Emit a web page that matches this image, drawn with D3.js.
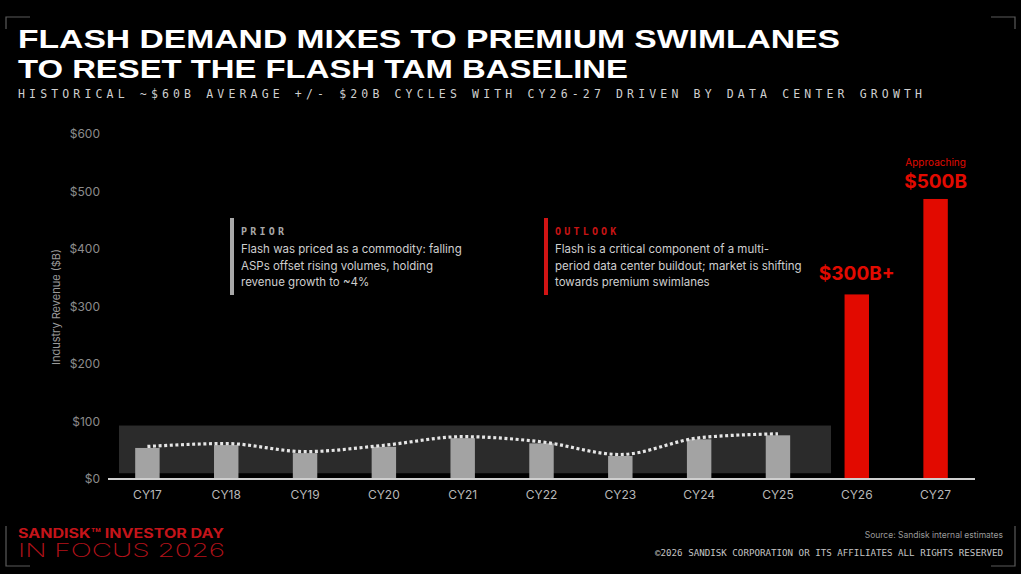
<!DOCTYPE html>
<html>
<head>
<meta charset="utf-8">
<script src="https://cdn.jsdelivr.net/npm/d3@7"></script>
<style>
	html, body { margin: 0; padding: 0; background: #000; }
	svg { display: block; }
	text { font-family: "Inter", "Liberation Sans", sans-serif; }
</style>
</head>
<body>
<svg id="chart" width="1021" height="574"></svg>
<script>
// Chart values
const categories = ["CY17", "CY18", "CY19", "CY20", "CY21", "CY22", "CY23", "CY24", "CY25", "CY26", "CY27"];
const historicalYears = ["CY17", "CY18", "CY19", "CY20", "CY21", "CY22", "CY23", "CY24", "CY25"];
const historicalValues = [54, 59, 45, 56, 71, 62, 40, 69, 76];
const forecastYears = ["CY26", "CY27"];
const forecastValues = [321, 487];
const forecastLabels = ["$300B+", "$500B"];
const yTicks = [0, 100, 200, 300, 400, 500, 600];
const historicalBand = [10, 93];

const priorLines = [
	"Flash was priced as a commodity: falling",
	"ASPs offset rising volumes, holding",
	"revenue growth to ~4%",
];
const outlookLines = [
	"Flash is a critical component of a multi-",
	"period data center buildout; market is shifting",
	"towards premium swimlanes",
];

const svg = d3.select("#chart");
const red = "#e20a00";

// Background
svg.append("rect").attr("width", 1021).attr("height", 574).attr("fill", "#000");

// Corner brackets
const corners = [
	"M6,29 V17 H30", "M991,17 H1015 V29",
	"M6,526 V566 H30", "M991,566 H1015 V526",
];
svg.selectAll(".corner").data(corners).enter().append("path")
	.attr("d", (d) => d).attr("fill", "none").attr("stroke", "#5a5a5a").attr("stroke-width", 1.2);

// Title
const titleLines = ["FLASH DEMAND MIXES TO PREMIUM SWIMLANES", "TO RESET THE FLASH TAM BASELINE"];
const titleWidths = [822, 610];
svg.selectAll(".title").data(titleLines).enter().append("text")
	.attr("x", 18).attr("y", (d, i) => 48 + i * 30)
	.attr("textLength", (d, i) => titleWidths[i])
	.attr("lengthAdjust", "spacingAndGlyphs")
	.style("font-family", "'Liberation Sans', sans-serif")
	.style("font-size", "26.5px").style("font-weight", 700).attr("fill", "#fff")
	.text((d) => d);

svg.append("text")
	.attr("x", 18).attr("y", 98)
	.attr("textLength", 904).attr("lengthAdjust", "spacing")
	.style("font-family", "'DejaVu Sans Mono', monospace").style("font-size", "11.5px")
	.attr("fill", "#cfcfcf")
	.text("HISTORICAL ~$60B AVERAGE +/- $20B CYCLES WITH CY26-27 DRIVEN BY DATA CENTER GROWTH");

// Scales
const x = d3.scaleBand().domain(categories).range([108, 975]).paddingInner(0.69).paddingOuter(0.345);
const y = d3.scaleLinear().domain([0, 600]).range([479, 134]);

// Historical band
svg.append("rect")
	.attr("x", 119).attr("width", 831 - 119)
	.attr("y", y(historicalBand[1])).attr("height", y(historicalBand[0]) - y(historicalBand[1]))
	.attr("fill", "#2b2b2b");

// Y axis
const yAxis = svg.append("g").attr("transform", "translate(100,0)")
	.call(d3.axisLeft(y).tickValues(yTicks).tickSize(0).tickPadding(0).tickFormat((d) => "$" + d));
yAxis.select(".domain").remove();
yAxis.selectAll("text").attr("fill", "#8c8c8c").style("font-size", "12px")
	.style("font-family", "'Inter', sans-serif");

svg.append("text")
	.attr("transform", "translate(60,307) rotate(-90)")
	.attr("text-anchor", "middle")
	.attr("fill", "#9a9a9a").style("font-size", "11px")
	.text("Industry Revenue ($B)");

// Historical bars
svg.selectAll(".hist").data(historicalValues).enter().append("rect")
	.attr("x", (d, i) => x(historicalYears[i]))
	.attr("width", x.bandwidth())
	.attr("y", (d) => y(d))
	.attr("height", (d) => y(0) - y(d))
	.attr("fill", "#a3a3a3");

// Forecast bars
svg.selectAll(".fc").data(forecastValues).enter().append("rect")
	.attr("x", (d, i) => x(forecastYears[i]))
	.attr("width", x.bandwidth())
	.attr("y", (d) => y(d))
	.attr("height", (d) => y(0) - y(d))
	.attr("fill", red);

// Dotted trend line over historical years
const line = d3.line()
	.x((d, i) => x(historicalYears[i]) + x.bandwidth() / 2)
	.y((d) => y(d) - 1.5)
	.curve(d3.curveMonotoneX);
svg.append("path")
	.datum(historicalValues)
	.attr("d", line)
	.attr("fill", "none")
	.attr("stroke", "#e6e6e6")
	.attr("stroke-width", 3.2)
	.attr("stroke-dasharray", "3 2.6");

// Baseline
svg.append("line")
	.attr("x1", 108).attr("x2", 975).attr("y1", y(0)).attr("y2", y(0))
	.attr("stroke", "#cfcfcf").attr("stroke-width", 2);

// X axis labels
const xAxis = svg.append("g").attr("transform", `translate(0,${y(0)})`)
	.call(d3.axisBottom(x).tickSize(0).tickPadding(11));
xAxis.select(".domain").remove();
xAxis.selectAll("text").attr("fill", "#b8b8b8").style("font-size", "12px")
	.style("font-family", "'Inter', sans-serif");

// Forecast value labels
const cx = (k) => x(k) + x.bandwidth() / 2;
svg.append("text")
	.attr("x", cx("CY26")).attr("y", y(forecastValues[0]) - 14)
	.attr("text-anchor", "middle").attr("fill", red)
	.style("font-size", "19px").style("font-weight", 700)
	.text(forecastLabels[0]);
svg.append("text")
	.attr("x", cx("CY27")).attr("y", y(forecastValues[1]) - 11)
	.attr("text-anchor", "middle").attr("fill", red)
	.style("font-size", "19px").style("font-weight", 700)
	.text(forecastLabels[1]);
svg.append("text")
	.attr("x", cx("CY27")).attr("y", y(forecastValues[1]) - 33)
	.attr("text-anchor", "middle").attr("fill", red)
	.style("font-size", "10px")
	.text("Approaching");

// Annotation callouts
function callout(xPos, color, heading, headColor, lines) {
	svg.append("rect")
		.attr("x", xPos).attr("y", 218).attr("width", 4).attr("height", 77)
		.attr("fill", color);
	svg.append("text")
		.attr("x", xPos + 11).attr("y", 235)
		.style("font-family", "'DejaVu Sans Mono', monospace").style("font-size", "10px")
		.style("letter-spacing", "3.2px").style("font-weight", 700)
		.attr("fill", headColor)
		.text(heading);
	svg.selectAll(null).data(lines).enter().append("text")
		.attr("x", xPos + 11).attr("y", (d, i) => 253 + i * 16.5)
		.attr("fill", "#cfcfcf").style("font-size", "11.5px")
		.text((d) => d);
}
callout(230, "#a8a8a8", "PRIOR", "#a8a8a8", priorLines);
callout(544, "#d11414", "OUTLOOK", "#c81414", outlookLines);

// Footer
svg.append("text")
	.attr("x", 18).attr("y", 538)
	.attr("fill", "#c4141a").style("font-size", "12.5px").style("font-weight", 700)
	.attr("textLength", 206).attr("lengthAdjust", "spacingAndGlyphs")
	.text("SANDISK\u2122 INVESTOR DAY");
svg.append("text")
	.attr("x", 18).attr("y", 557)
	.attr("fill", "#b3121a").style("font-size", "19px").style("font-weight", 200)
	.attr("textLength", 207).attr("lengthAdjust", "spacingAndGlyphs")
	.text("IN FOCUS 2026");

svg.append("text")
	.attr("x", 1003).attr("y", 538).attr("text-anchor", "end")
	.attr("fill", "#9a9a9a").style("font-size", "8.5px")
	.text("Source: Sandisk internal estimates");
svg.append("text")
	.attr("x", 1003).attr("y", 556).attr("text-anchor", "end")
	.attr("fill", "#c4c4c4").style("font-family", "'DejaVu Sans Mono', monospace").style("font-size", "8px")
	.attr("textLength", 348).attr("lengthAdjust", "spacingAndGlyphs")
	.text("\u00A92026 SANDISK CORPORATION OR ITS AFFILIATES ALL RIGHTS RESERVED");
</script>
</body>
</html>
